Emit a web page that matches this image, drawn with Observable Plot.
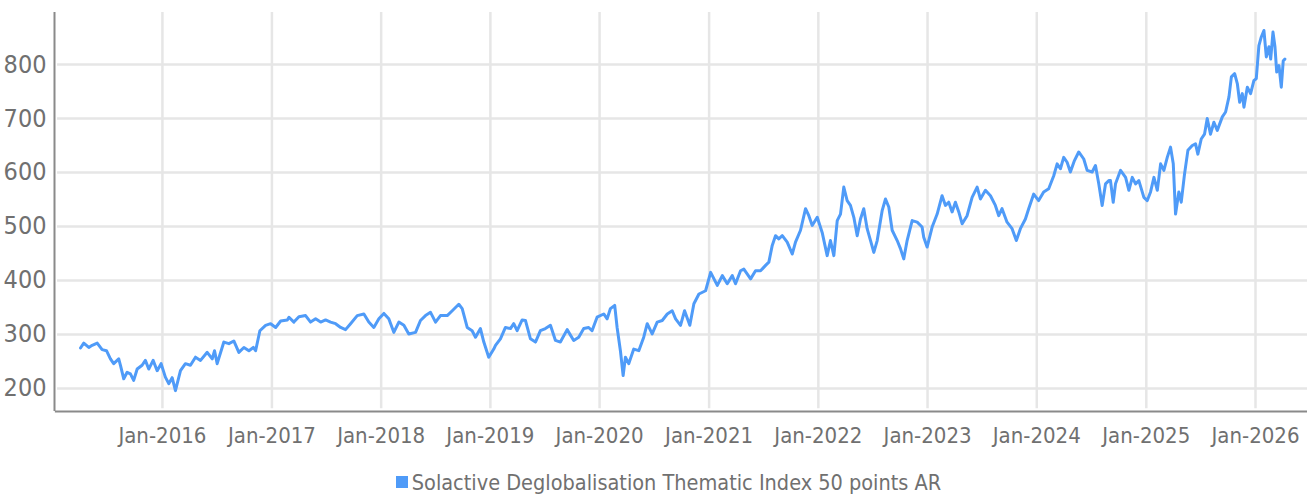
<!DOCTYPE html>
<html>
<head>
<meta charset="utf-8">
<script src="https://cdn.jsdelivr.net/npm/d3@7"></script>
<script src="https://cdn.jsdelivr.net/npm/@observablehq/plot@0.6"></script>
<style>
  html, body { margin: 0; padding: 0; background: #fff; }
  body { width: 1307px; font-family: "Liberation Sans Narrow", "DejaVu Sans Condensed", Roboto, sans-serif; }
  #legend { display: flex; align-items: center; justify-content: center; padding-left: 30px; height: 30px; margin-top: 7px;
    font-size: 21.5px; color: #707070; }
  #legend .sw { width: 12px; height: 12px; background: #4f9bf8; margin-right: 4px; }
</style>
</head>
<body>
<div id="chart"></div>
<div id="legend"><span class="sw"></span><span>Solactive Deglobalisation Thematic Index 50 points AR</span></div>
<script>
const seriesName = "Solactive Deglobalisation Thematic Index 50 points AR";
// dates as decimal years
const times = [
2015.250,2015.280,2015.326,2015.357,2015.403,2015.448,2015.488,2015.524,2015.554,2015.600,
2015.616,2015.646,2015.677,2015.707,2015.737,2015.769,2015.814,2015.844,2015.875,2015.915,
2015.952,2015.988,2016.027,2016.058,2016.089,2016.119,2016.165,2016.210,2016.256,2016.302,
2016.348,2016.409,2016.455,2016.476,2016.500,2016.561,2016.607,2016.652,2016.698,2016.744,
2016.790,2016.830,2016.851,2016.890,2016.942,2016.988,2017.034,2017.080,2017.141,2017.156,
2017.201,2017.247,2017.308,2017.354,2017.400,2017.446,2017.491,2017.537,2017.583,2017.629,
2017.674,2017.720,2017.781,2017.842,2017.887,2017.933,2017.979,2018.025,2018.070,2018.116,
2018.162,2018.208,2018.253,2018.315,2018.360,2018.406,2018.452,2018.498,2018.543,2018.605,
2018.651,2018.711,2018.742,2018.788,2018.833,2018.864,2018.909,2018.940,2018.985,2019.031,
2019.047,2019.092,2019.138,2019.184,2019.214,2019.245,2019.291,2019.321,2019.367,2019.413,
2019.458,2019.504,2019.550,2019.596,2019.641,2019.703,2019.763,2019.809,2019.855,2019.900,
2019.931,2019.977,2020.038,2020.069,2020.099,2020.138,2020.160,2020.190,2020.215,2020.236,
2020.266,2020.312,2020.358,2020.403,2020.435,2020.480,2020.526,2020.572,2020.618,2020.663,
2020.694,2020.739,2020.776,2020.824,2020.861,2020.907,2020.968,2021.014,2021.075,2021.121,
2021.166,2021.212,2021.242,2021.288,2021.318,2021.380,2021.425,2021.471,2021.517,2021.547,
2021.578,2021.608,2021.638,2021.670,2021.715,2021.761,2021.791,2021.837,2021.883,2021.913,
2021.944,2021.990,2022.035,2022.081,2022.111,2022.142,2022.173,2022.203,2022.233,2022.264,
2022.294,2022.325,2022.356,2022.386,2022.416,2022.447,2022.478,2022.508,2022.539,2022.585,
2022.615,2022.645,2022.676,2022.722,2022.752,2022.782,2022.813,2022.859,2022.905,2022.950,
2022.965,2022.996,2023.042,2023.088,2023.133,2023.164,2023.194,2023.225,2023.255,2023.286,
2023.317,2023.362,2023.408,2023.454,2023.484,2023.530,2023.576,2023.621,2023.652,2023.682,
2023.728,2023.774,2023.813,2023.850,2023.896,2023.926,2023.972,2024.017,2024.063,2024.109,
2024.155,2024.186,2024.216,2024.246,2024.277,2024.307,2024.344,2024.383,2024.429,2024.460,
2024.506,2024.536,2024.566,2024.597,2024.628,2024.658,2024.673,2024.698,2024.719,2024.765,
2024.811,2024.841,2024.872,2024.902,2024.932,2024.978,2025.009,2025.039,2025.070,2025.101,
2025.131,2025.161,2025.192,2025.222,2025.247,2025.268,2025.298,2025.320,2025.350,2025.381,
2025.421,2025.451,2025.472,2025.503,2025.533,2025.558,2025.588,2025.619,2025.650,2025.696,
2025.726,2025.757,2025.779,2025.809,2025.834,2025.855,2025.879,2025.894,2025.925,2025.955,
2025.985,2026.007,2026.031,2026.053,2026.077,2026.099,2026.123,2026.139,2026.160,2026.178,
2026.194,2026.215,2026.236,2026.254,2026.269
];
const values = [
275,284,276,280,284,272,270,255,246,255,
243,218,230,227,215,236,243,252,236,252,
233,246,221,209,220,196,233,246,243,258,
252,267,255,270,246,286,283,288,267,276,
270,276,270,307,317,320,313,325,327,332,
323,333,335,323,329,323,327,323,320,313,
309,320,335,338,323,313,329,339,329,304,
323,317,301,304,326,335,341,323,335,335,
344,356,348,313,307,295,311,286,258,273,
280,292,313,311,320,307,327,326,292,286,
307,311,317,289,286,309,289,295,311,313,
307,332,338,329,348,354,313,270,224,258,
246,273,270,295,320,301,323,326,338,344,
329,317,344,317,357,375,381,415,391,409,
394,409,394,418,421,403,418,418,428,434,
465,483,477,483,471,449,471,493,533,520,
502,517,489,446,474,446,511,523,573,548,
539,517,483,514,533,496,474,452,474,530,
551,536,493,474,459,440,474,511,508,499,
480,462,499,523,557,539,545,527,545,527,
505,520,554,573,551,567,557,539,520,533,
508,496,474,496,514,533,560,548,564,570,
594,616,607,628,619,601,622,638,625,604,
601,613,579,539,579,585,585,545,579,604,
591,567,591,579,585,554,548,564,591,567,
616,604,628,647,616,523,564,545,597,641,
650,653,634,662,671,700,671,693,678,703,
712,740,777,783,764,730,746,721,758,746,
770,774,835,851,863,814,833,810,860,833,
786,798,758,807,810
];
const yTicks = [200, 300, 400, 500, 600, 700, 800];
const xTickYears = [2016, 2017, 2018, 2019, 2020, 2021, 2022, 2023, 2024, 2025, 2026];

function toDate(t) {
  const y = Math.floor(t);
  const a = Date.UTC(y, 0, 1), b = Date.UTC(y + 1, 0, 1);
  return new Date(a + (t - y) * (b - a));
}
const data = times.map((t, i) => ({date: toDate(t), value: values[i]}));
const xTicks = xTickYears.map(y => new Date(Date.UTC(y, 0, 1)));
const xDomain = [toDate(2015.012), toDate(2026.476)];
const yDomain = [157.4, 896.3];
const fontStack = '"Liberation Sans Narrow", "DejaVu Sans Condensed", Roboto, sans-serif';

const chart = Plot.plot({
  width: 1307,
  height: 460,
  marginLeft: 54,
  marginRight: 0,
  marginTop: 12,
  marginBottom: 49,
  style: {fontFamily: fontStack, fontSize: "22px", color: "#707070", background: "#fff"},
  x: {type: "utc", domain: xDomain, label: null},
  y: {domain: yDomain, label: null},
  marks: [
    Plot.gridX(xTicks, {stroke: "#e6e6e6", strokeOpacity: 1, strokeWidth: 2.5, y1: 157.4 + 5, y2: 896.3}),
    Plot.gridY(yTicks, {stroke: "#e6e6e6", strokeOpacity: 1, strokeWidth: 2.5, x1: toDate(2015.04), x2: xDomain[1]}),
    Plot.axisX(xTicks, {tickSize: 0, tickPadding: 16, tickFormat: d3.utcFormat("%b-%Y"), fill: "#707070", fontSize: 22, label: null}),
    Plot.axisY(yTicks, {tickSize: 0, tickPadding: 8, fill: "#707070", fontSize: 25, label: null}),
    Plot.ruleX([xDomain[0]], {stroke: "#8a8a8a", strokeWidth: 2}),
    Plot.ruleY([yDomain[0]], {stroke: "#8a8a8a", strokeWidth: 2, x1: toDate(2015.02), x2: xDomain[1]}),
    Plot.lineY(data, {x: "date", y: "value", stroke: "#4f9bf8", strokeWidth: 3, strokeLinejoin: "round"})
  ]
});
document.getElementById("chart").appendChild(chart);
</script>
</body>
</html>
